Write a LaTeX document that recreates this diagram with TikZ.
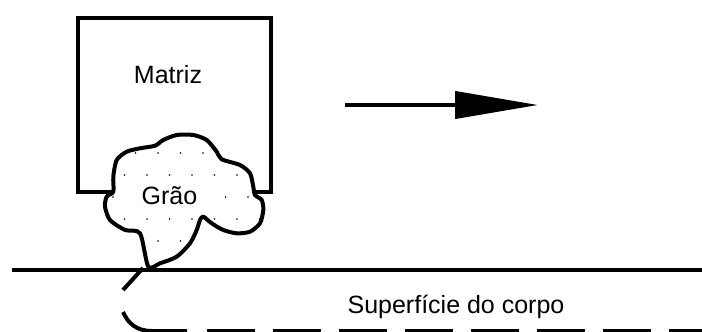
\documentclass[tikz,border=0pt]{standalone}
\usepackage{fontspec}
\setmainfont{Liberation Sans}
\usetikzlibrary{arrows.meta}

\begin{document}
\begin{tikzpicture}[x=1pt,y=-1pt,
    rotulo/.style={font=\fontsize{25}{30}\selectfont, inner sep=0pt, anchor=base},
    traco/.style={line width=4pt}]
    \useasboundingbox (0,0) rectangle (702,332);
    % matriz
    \draw[traco] (77.5,17.5) rectangle (271,192);
    \node[rotulo] (matriz) at (168,83) {Matriz};
    % grao (contorno em nuvem)
    \def\nuvem{(148.3,266.7) (140,233.3) (125,230) (110,220) (105,206.7) (106.7,196.7)
        (113.3,191.7) (113.3,176.7) (116.7,160) (126.7,151.7) (140,148.3) (155,145.7)
        (163.3,140) (176.7,135) (193.3,135) (206.7,140) (216.7,151.7) (221.7,159.3)
        (240,165) (250,173.3) (253.3,186.7) (255,195) (261.7,200) (263.3,210)
        (260,223.3) (250,231.7) (236.7,233.3) (223.3,230) (211.7,223.3) (203.3,216.7)
        (200,220) (196.7,230) (190,243.3) (176.7,256.7) (160,263.3)}
    \fill[white] plot[smooth cycle, tension=0.45] coordinates {\nuvem};
    \begin{scope}
        \clip plot[smooth cycle, tension=0.45] coordinates {\nuvem};
        \foreach \r in {0,...,4} {
            \pgfmathsetmacro{\yy}{153+22*\r}
            \pgfmathsetmacro{\xo}{mod(\r,2)==0 ? 113 : 124.5}
            \foreach \k in {0,...,6}
                \fill (\xo+22.5*\k,\yy) circle (0.9pt);
        }
    \end{scope}
    \draw[traco, line join=round] plot[smooth cycle, tension=0.45] coordinates {\nuvem};
    \node[rotulo, fill=white, inner xsep=8pt, inner ysep=2pt] (grao) at (169.5,204) {Grão};
    % movimento
    \coordinate (ini) at (345,105);
    \coordinate (fim) at (538,105);
    \draw[traco, -{Triangle[length=83pt,width=27pt]}] (ini) -- (fim);
    % superficie
    \coordinate (e0) at (12,270);
    \coordinate (e1) at (702,270);
    \draw[traco] (e0) -- (e1);
    \coordinate (raiz) at (143,268);
    \coordinate (r1) at (123,290);
    \coordinate (r2) at (123,312);
    \coordinate (r3) at (187,331);
    \coordinate (r4) at (207,331);
    \coordinate (r5) at (702,331);
    \draw[traco] (raiz) -- (r1);
    \draw[traco] (r2) .. controls (128,323) and (136,331) .. (152,331) -- (r3);
    \draw[traco, dash pattern=on 48pt off 18pt] (r4) -- (r5);
    \node[rotulo] (superficie) at (456,313) {Superfície do corpo};
\end{tikzpicture}
\end{document}
